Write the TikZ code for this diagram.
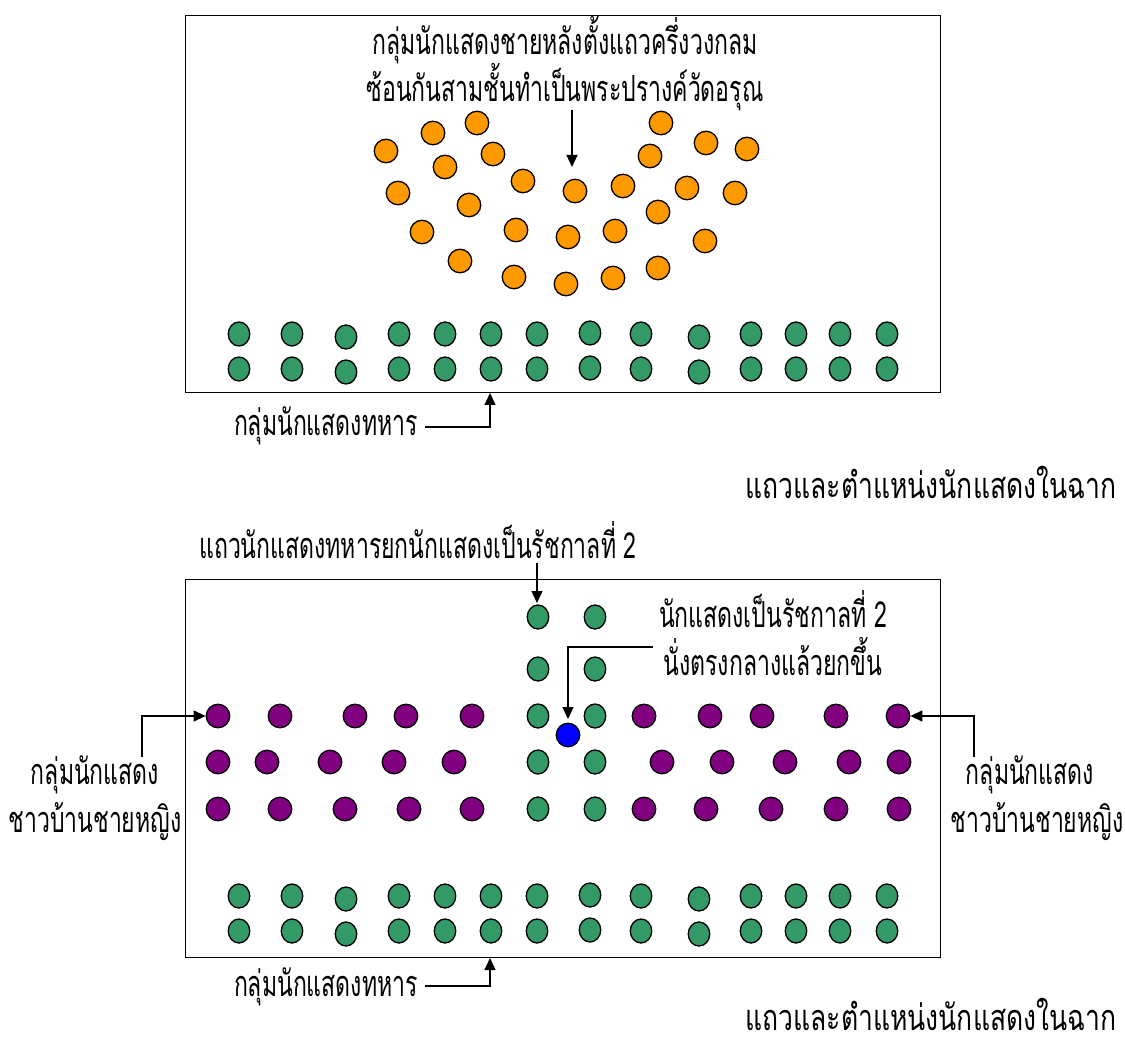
\documentclass[tikz,border=0pt]{standalone}
\usepackage{fontspec}
\newfontfamily\thaifont[Script=Thai,FakeStretch=0.64]{Loma}
\usetikzlibrary{arrows.meta,shapes.geometric}
\definecolor{dancerorange}{RGB}{255,153,0}
\definecolor{soldiergreen}{RGB}{51,153,102}
\definecolor{villagerpurple}{RGB}{128,0,128}
\definecolor{kingblue}{RGB}{0,0,255}
\begin{document}
\begin{tikzpicture}[x=1pt,y=-1pt,
  actor/.style={circle,draw=black,line width=1.3pt,minimum size=23.5pt,inner sep=0pt},
  dancer/.style={actor,fill=dancerorange},
  soldier/.style={actor,ellipse,fill=soldiergreen,minimum width=21.5pt,minimum height=24pt},
  villager/.style={actor,fill=villagerpurple},
  king/.style={actor,fill=kingblue},
  stage/.style={draw=black,line width=1.4pt,fill=none,inner sep=0pt,anchor=north west},
  lbl/.style={font=\thaifont\fontsize{36}{42}\selectfont,inner sep=0pt,anchor=base},
  conn/.style={draw=black,line width=1.3pt},
  pointer/.style={conn,-{Triangle[length=12pt,width=11pt]}}]
\useasboundingbox (0,0) rectangle (1125,1048);

% ---------- upper scene ----------
\node[stage,minimum width=755pt,minimum height=377pt] (stageA) at (185,15) {};
\node[lbl] (dancerLblA) at (565,55) {กลุ่มนักแสดงชายหลังตั้งแถวครึ่งวงกลม};
\node[lbl] (dancerLblB) at (565,102) {ซ้อนกันสามชั้นทำเป็นพระปรางค์วัดอรุณ};

\foreach \n/\x/\y in {1/386/151,2/433/133,3/477/123,4/445/167,5/493/154,
  6/398/193,7/469/205,8/523/181,9/575/191,10/623/186,11/661/123,12/650/156,
  13/706/143,14/747/149,15/687/188,16/735/193,17/658/212,18/422/232,
  19/516/230,20/568/237,21/615/231,22/705/241,23/460/261,24/514/277,
  25/566/284,26/613/278,27/658/268}
  \node[dancer] (d\n) at (\x,\y) {};

\coordinate (dArrS) at (572,110);
\coordinate (dArrE) at (572,167);
\draw[pointer] (dArrS) -- (dArrE);

\foreach \n/\x/\dy in {1/239/0,2/292/0,3/346/3,4/399/0,5/445/0,6/491/0,7/537/0,
  8/590/-1,9/641/0,10/699/3,11/751/0,12/796/0,13/840/0,14/887/0}{
  \node[soldier] (sa\n) at (\x,334+\dy) {};
  \node[soldier] (sb\n) at (\x,369+\dy) {};
}

\node[lbl,anchor=base east] (solLblA) at (418,436) {กลุ่มนักแสดงทหาร};
\coordinate (solAS) at (425,427);
\coordinate (solAE) at (490,393);
\draw[pointer] (solAS) -| (solAE);

\node[lbl] (titleA) at (931,499) {\scalebox{1.15}[1]{แถวและตำแหน่งนักแสดงในฉาก}};

% ---------- lower scene ----------
\node[stage,minimum width=755pt,minimum height=378pt] (stageB) at (185,579) {};

\node[lbl] (bearLbl) at (418,558) {แถวนักแสดงทหารยกนักแสดงเป็นรัชกาลที่ 2};
\coordinate (bearS) at (537,563);
\coordinate (bearE) at (537,603);
\draw[pointer] (bearS) -- (bearE);

\foreach \n/\y in {1/617,2/669,3/716,4/762,5/809}{
  \node[soldier] (cl\n) at (538,\y) {};
  \node[soldier] (cr\n) at (595,\y) {};
}
\node[king] (king) at (568,735) {};

\node[lbl] (kingLblA) at (773,627) {นักแสดงเป็นรัชกาลที่ 2};
\node[lbl] (kingLblB) at (773,675) {นั่งตรงกลางแล้วยกขึ้น};
\coordinate (kingS) at (653,647);
\coordinate (kingE) at (568,719);
\draw[pointer] (kingS) -| (kingE);

\foreach \n/\x in {1/218,2/280,3/355,4/406,5/472,6/644,7/710,8/762,9/836,10/898}
  \node[villager] (va\n) at (\x,716) {};
\foreach \n/\x in {1/218,2/267,3/330,4/394,5/454,6/662,7/722,8/785,9/849,10/899}
  \node[villager] (vb\n) at (\x,762) {};
\foreach \n/\x in {1/218,2/280,3/345,4/409,5/472,6/644,7/706,8/771,9/836,10/899}
  \node[villager] (vc\n) at (\x,809) {};

\node[lbl] (vilLblLA) at (95,784) {กลุ่มนักแสดง};
\node[lbl] (vilLblLB) at (95,832) {ชาวบ้านชายหญิง};
\coordinate (vilLS) at (142,757);
\draw[pointer] (vilLS) |- (va1.west);

\node[lbl] (vilLblRA) at (1030,784) {กลุ่มนักแสดง};
\node[lbl] (vilLblRB) at (1037,832) {ชาวบ้านชายหญิง};
\coordinate (vilRS) at (974,757);
\draw[pointer] (vilRS) |- (va10.east);

\foreach \n/\x/\dy in {1/239/0,2/292/0,3/346/3,4/399/0,5/445/0,6/491/0,7/537/0,
  8/590/-1,9/641/0,10/699/3,11/751/0,12/796/0,13/840/0,14/887/0}{
  \node[soldier] (ta\n) at (\x,896+\dy) {};
  \node[soldier] (tb\n) at (\x,931+\dy) {};
}

\node[lbl,anchor=base east] (solLblB) at (418,996) {กลุ่มนักแสดงทหาร};
\coordinate (solBS) at (425,986);
\coordinate (solBE) at (490,958);
\draw[pointer] (solBS) -| (solBE);

\node[lbl] (titleB) at (931,1030) {\scalebox{1.15}[1]{แถวและตำแหน่งนักแสดงในฉาก}};
\end{tikzpicture}
\end{document}
